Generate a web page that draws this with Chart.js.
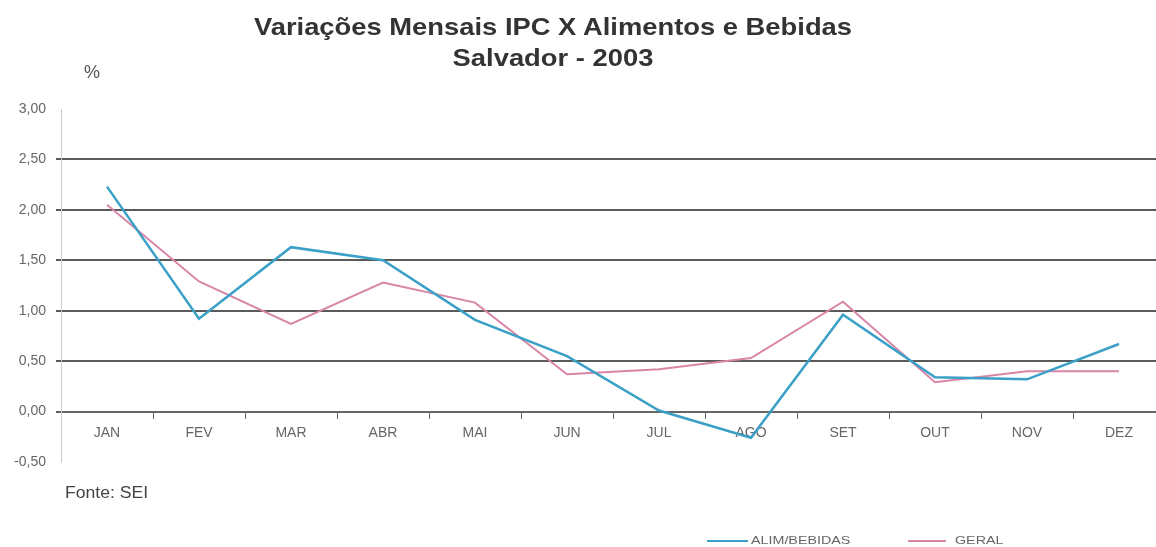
<!DOCTYPE html>
<html>
<head>
<meta charset="utf-8">
<script src="https://cdn.jsdelivr.net/npm/chart.js@4"></script>
<style>
  html, body { margin: 0; padding: 0; background: #fff; overflow: hidden; width: 1156px; height: 547px; }
  #wrap { position: absolute; left: 0; top: 0; width: 1170px; height: 547px; }
  .txt { position: absolute; font-family: "Liberation Sans", Arial, sans-serif; color: #444; white-space: nowrap; }
  .ttl { left: 0; width: 1106px; text-align: center; font-size: 24px; font-weight: bold; color: #333; transform: scaleX(1.14); transform-origin: 553px 0; }
  #t1 { top: 13px; }
  #t2 { top: 44px; }
  #pct { left: 84px; top: 62px; font-size: 18px; color: #555; }
  #fonte { left: 65px; top: 484px; font-size: 16px; color: #444; transform: scaleX(1.1); transform-origin: 0 0; }
  .leg { position: absolute; top: 534px; font-family: "Liberation Sans", Arial, sans-serif; font-size: 11px; color: #666; white-space: nowrap; transform: scaleX(1.3); transform-origin: 0 0; }
  .legline { position: absolute; top: 540px; height: 2px; }
</style>
</head>
<body>
<div id="wrap"><canvas id="c" width="1170" height="547"></canvas></div>
<div class="txt ttl" id="t1">Variações Mensais IPC X Alimentos e Bebidas</div>
<div class="txt ttl" id="t2">Salvador - 2003</div>
<div class="txt" id="pct">%</div>
<div class="txt" id="fonte">Fonte: SEI</div>
<div class="legline" style="left:707px;width:41px;background:#3aa0c6;"></div>
<div class="leg" style="left:751px;">ALIM/BEBIDAS</div>
<div class="legline" style="left:908px;width:38px;background:#d985a8;"></div>
<div class="leg" style="left:955px;">GERAL</div>
<script>
const categories = ["JAN","FEV","MAR","ABR","MAI","JUN","JUL","AGO","SET","OUT","NOV","DEZ"];
const alimBebidas = [2.23, 0.92, 1.63, 1.50, 0.91, 0.55, 0.01, -0.26, 0.96, 0.34, 0.32, 0.67];
const geral = [2.05, 1.29, 0.87, 1.28, 1.08, 0.37, 0.42, 0.53, 1.09, 0.29, 0.40, 0.40];
const yTickValues = [-0.5, 0, 0.5, 1, 1.5, 2, 2.5, 3];
const seriesNames = ["ALIM/BEBIDAS", "GERAL"];

const fmt = v => v.toFixed(2).replace('.', ',');

new Chart(document.getElementById('c'), {
  type: 'line',
  data: {
    labels: categories,
    datasets: [
      { label: seriesNames[0], data: alimBebidas, borderColor: '#3aa0c6', borderWidth: 2.5, pointRadius: 0, tension: 0, fill: false },
      { label: seriesNames[1], data: geral, borderColor: '#d985a8', borderWidth: 2, pointRadius: 0, tension: 0, fill: false }
    ]
  },
  options: {
    responsive: false,
    animation: false,
    layout: { padding: { top: 109, bottom: 85, left: 0, right: 5 } },
    plugins: { legend: { display: false }, title: { display: false }, tooltip: { enabled: false } },
    scales: {
      x: {
        type: 'category',
        position: { y: 0 },
        offset: true,
        grid: { offset: true, drawOnChartArea: false, drawTicks: true, tickLength: 6, color: '#666', lineWidth: 1 },
        border: { display: true, color: '#666', width: 2 },
        ticks: { color: '#666', font: { family: 'Liberation Sans', size: 14 }, padding: 7, maxRotation: 0, autoSkip: false }
      },
      y: {
        min: -0.5, max: 3,
        afterBuildTicks: s => { s.ticks = yTickValues.map(v => ({ value: v })); },
        afterFit: s => { s.width = 61; },
        grid: {
          color: ctx => (ctx.tick && (ctx.tick.value === 3 || ctx.tick.value === -0.5)) ? 'rgba(0,0,0,0)' : '#5a5a5a',
          lineWidth: 2, tickLength: 5
        },
        border: { display: true, color: '#ccc', width: 1 },
        ticks: { color: '#666', font: { family: 'Liberation Sans', size: 14 }, padding: 10, callback: v => fmt(v) }
      }
    }
  }
});
</script>
</body>
</html>
